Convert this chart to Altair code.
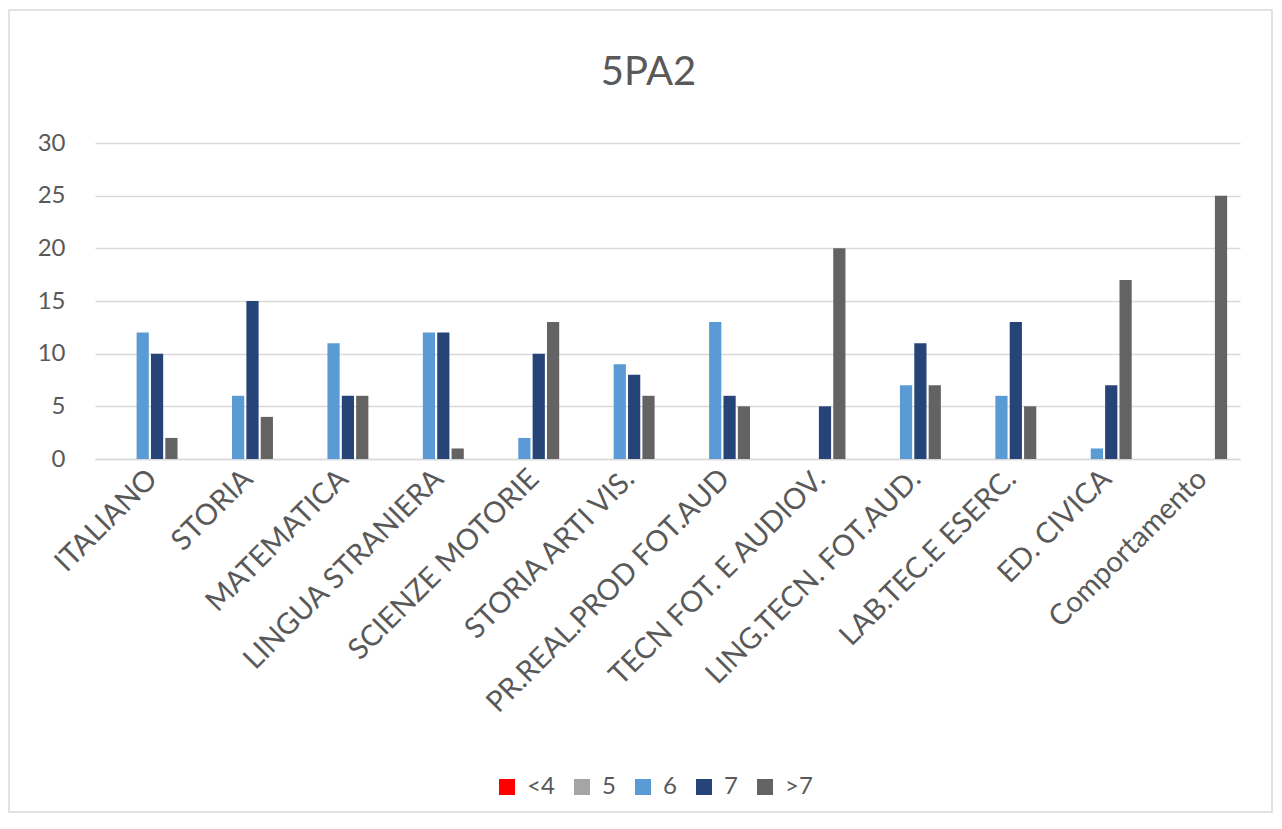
import altair as alt
import pandas as pd

categories = ["ITALIANO", "STORIA", "MATEMATICA", "LINGUA STRANIERA", "SCIENZE MOTORIE",
              "STORIA ARTI VIS.", "PR.REAL.PROD FOT.AUD", "TECN FOT. E AUDIOV.",
              "LING.TECN. FOT.AUD.", "LAB.TEC.E ESERC.", "ED. CIVICA", "Comportamento"]
series = ["<4", "5", "6", "7", ">7"]
vals_lt4 = [0, 0, 0, 0, 0, 0, 0, 0, 0, 0, 0, 0]
vals_5 = [0, 0, 0, 0, 0, 0, 0, 0, 0, 0, 0, 0]
vals_6 = [12, 6, 11, 12, 2, 9, 13, 0, 7, 6, 1, 0]
vals_7 = [10, 15, 6, 12, 10, 8, 6, 5, 11, 13, 7, 0]
vals_gt7 = [2, 4, 6, 1, 13, 6, 5, 20, 7, 5, 17, 25]
colors = ["#FF0000", "#A5A5A5", "#5B9BD5", "#264478", "#636363"]

rows = []
for s, vals in zip(series, [vals_lt4, vals_5, vals_6, vals_7, vals_gt7]):
    for c, v in zip(categories, vals):
        rows.append({"materia": c, "voto": s, "n": v})
df = pd.DataFrame(rows)

FONT = "Lato"
TXT = "#595959"

bars = alt.Chart(df).mark_bar().encode(
    x=alt.X("materia:N", sort=categories, title=None,
            scale=alt.Scale(paddingInner=0.27, paddingOuter=0.135),
            axis=alt.Axis(labelAngle=-45, labelFontSize=29, labelColor=TXT, labelFont=FONT,
                          ticks=False, domainColor="#D9D9D9", domainWidth=1.5,
                          labelPadding=5, labelLimit=500)),
    xOffset=alt.XOffset("voto:N", sort=series,
                        scale=alt.Scale(paddingInner=0.15, paddingOuter=0)),
    y=alt.Y("n:Q", title=None,
            scale=alt.Scale(domain=[0, 30], nice=False),
            axis=alt.Axis(values=[0, 5, 10, 15, 20, 25, 30], labelFontSize=24, labelColor=TXT,
                          labelFont=FONT, ticks=False, domain=False, gridColor="#D9D9D9",
                          gridWidth=1.5, labelPadding=30)),
    color=alt.Color("voto:N", sort=series, title=None,
                    scale=alt.Scale(domain=series, range=colors),
                    legend=alt.Legend(orient="none", direction="horizontal", legendX=400,
                                      legendY=632, symbolType="square", symbolSize=256,
                                      symbolStrokeWidth=0, labelFontSize=24, labelColor=TXT,
                                      labelFont=FONT, labelOffset=8, columnPadding=15)),
)

frame_df = pd.DataFrame({"k": [0]})
frame = alt.Chart(frame_df).mark_rect(fill=None, stroke="#D9D9D9", strokeWidth=1.5).encode(
    x=alt.value(-86), x2=alt.value(1177), y=alt.value(-133), y2=alt.value(669)
)

chart = alt.layer(frame, bars).properties(
    width=1145, height=316,
    title=alt.TitleParams("5PA2", fontSize=40, font=FONT, color=TXT, fontWeight="normal",
                          anchor="middle", dx=-19, offset=-84),
    autosize=alt.AutoSizeParams(type="none"),
    padding={"left": 87, "top": 135, "right": 34, "bottom": 355},
).configure_view(stroke=None)

chart.save("out.html", embed_options={"renderer": "svg", "actions": False})
